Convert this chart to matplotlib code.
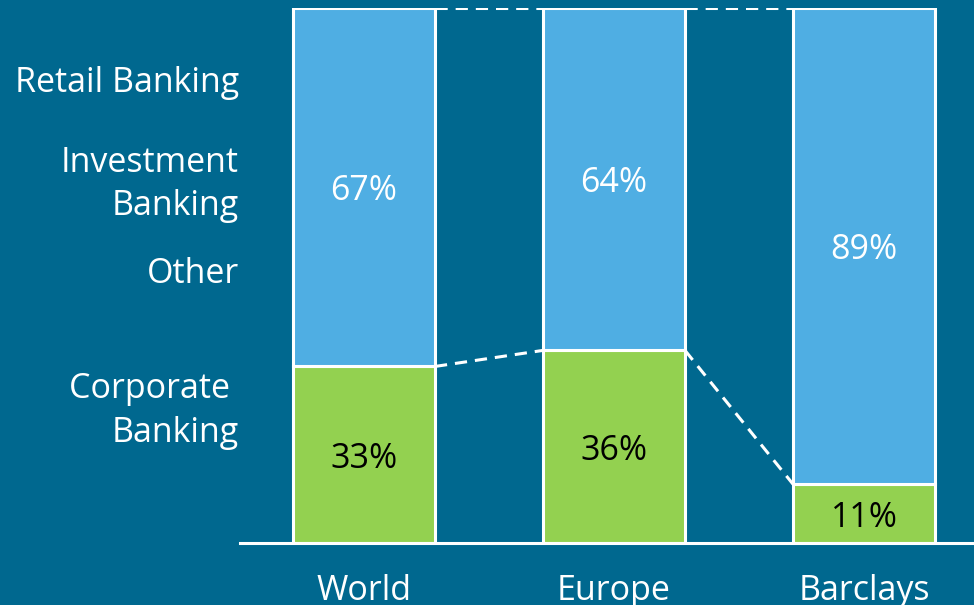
import matplotlib.pyplot as plt

# Share of revenue by business line
categories = ['World', 'Europe', 'Barclays']
corporate = [33, 36, 11]
retail_other = [67, 64, 89]
side_labels = ['Retail Banking', 'Investment\nBanking', 'Other', 'Corporate \nBanking']
side_label_y = [86.0, 67.0, 50.2, 24.7]

BG = '#00688F'
BLUE = '#4FAEE3'
GREEN = '#93D150'
FS = 24.5

plt.rcParams['font.family'] = ['Open Sans', 'DejaVu Sans']

fig = plt.figure(figsize=(9.74, 6.05), dpi=100, facecolor=BG)
ax = fig.add_axes([240 / 974, 62 / 605, 734 / 974, 535 / 605])
ax.set_facecolor(BG)

x = list(range(len(categories)))
width = 0.568
ax.bar(x, corporate, width, color=GREEN, edgecolor='white', linewidth=2.2, zorder=3)
ax.bar(x, retail_other, width, bottom=corporate, color=BLUE, edgecolor='white',
       linewidth=2.2, zorder=3)

# dashed connectors between neighbouring bars
for i in range(len(x) - 1):
    x0 = x[i] + width / 2
    x1 = x[i + 1] - width / 2
    top0 = corporate[i] + retail_other[i]
    top1 = corporate[i + 1] + retail_other[i + 1]
    ax.plot([x0, x1], [top0, top1], color='white', lw=2.2, ls=(0, (4, 2.6)), zorder=2)
    ax.plot([x0, x1], [corporate[i], corporate[i + 1]], color='white', lw=2.2,
            ls=(0, (4, 2.6)), zorder=2)

for i in x:
    ax.text(i, corporate[i] / 2, f'{corporate[i]}%', ha='center', va='center_baseline',
            fontsize=FS, color='black', zorder=4)
    ax.text(i, corporate[i] + retail_other[i] / 2, f'{retail_other[i]}%', ha='center',
            va='center_baseline', fontsize=FS, color='white', zorder=4)

ax.axhline(0, color='white', lw=2.2, zorder=5, clip_on=False)
ax.set_xlim(-0.496, 2.44)
ax.set_ylim(0, 100)
ax.set_xticks(x)
ax.set_xticklabels(categories, fontsize=FS, color='white')
ax.tick_params(axis='x', length=0, pad=22)
ax.set_yticks([])
for s in ax.spines.values():
    s.set_visible(False)

for lab, yv in zip(side_labels, side_label_y):
    ax.text(-0.5, yv, lab, ha='right', va='center', fontsize=FS, color='white',
            linespacing=1.38)

fig.savefig('out.png', dpi=100, facecolor=BG)
